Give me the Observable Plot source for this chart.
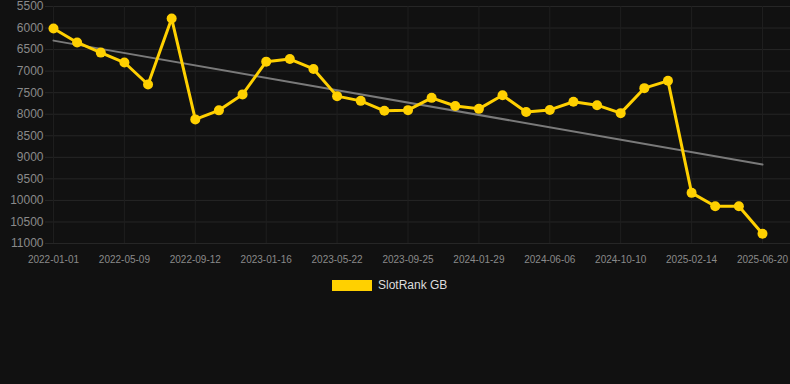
<!DOCTYPE html>
<html>
<head>
<meta charset="utf-8">
<script src="https://cdn.jsdelivr.net/npm/d3@7"></script>
<script src="https://cdn.jsdelivr.net/npm/@observablehq/plot@0.6"></script>
<style>
  html, body { margin: 0; padding: 0; background: #111111; }
  #legend { display: flex; justify-content: flex-start; align-items: center; margin-top: 8px; padding-left: 332px; font-family: Arial, "Liberation Sans", sans-serif; font-size: 12px; color: #dddddd; }
  #legend .sw { width: 40px; height: 11px; background: #ffd000; margin-right: 6px; }
</style>
</head>
<body>
<div id="chart"></div>
<script>
const tickLabels = ["2022-01-01","2022-05-09","2022-09-12","2023-01-16","2023-05-22","2023-09-25","2024-01-29","2024-06-06","2024-10-10","2025-02-14","2025-06-20"];
const ranks = [6010, 6335, 6570, 6800, 7310, 5780, 8120, 7910, 7540, 6780, 6720, 6950, 7580, 7690, 7920, 7905, 7620, 7810, 7875, 7560, 7950, 7900, 7710, 7790, 7975, 7395, 7225, 9825, 10135, 10135, 10775];
const yTicks = [5500, 6000, 6500, 7000, 7500, 8000, 8500, 9000, 9500, 10000, 10500, 11000];
const seriesName = "SlotRank GB";

const data = ranks.map((v, i) => ({i, v}));
const xTicks = tickLabels.map((_, k) => k * 3);

const chart = Plot.plot({
  width: 790,
  height: 270,
  marginLeft: 45,
  marginRight: 0,
  marginTop: 6,
  marginBottom: 27,
  style: {background: "#111111", fontFamily: "Arial, 'Liberation Sans', sans-serif"},
  x: {domain: [-0.3385, 31.185], axis: null, label: null},
  y: {domain: [5500, 11000], reverse: true, axis: null, label: null},
  marks: [
    Plot.ruleY(yTicks, {stroke: "#262626", strokeWidth: 1}),
    Plot.ruleX(xTicks, {stroke: "#1f1f1f", strokeWidth: 1}),
    Plot.axisY(yTicks, {tickSize: 0, tickPadding: 2, fontSize: 12, fill: "#8a8a8a", label: null, tickFormat: d => String(d)}),
    Plot.axisX(xTicks, {tickSize: 0, tickPadding: 12, fontSize: 10, fill: "#8a8a8a", label: null, tickFormat: d => tickLabels[d / 3]}),
    Plot.linearRegressionY(data, {x: "i", y: "v", stroke: "#7a7a7a", strokeWidth: 2, ci: 0}),
    Plot.line(data, {x: "i", y: "v", stroke: "#ffd000", strokeWidth: 3}),
    Plot.dot(data, {x: "i", y: "v", r: 5, fill: "#ffd000"})
  ]
});
document.getElementById("chart").append(chart);
const legend = document.createElement("div");
legend.id = "legend";
legend.innerHTML = '<div class="sw"></div><span></span>';
legend.querySelector("span").textContent = seriesName;
document.body.append(legend);
</script>
</body>
</html>
